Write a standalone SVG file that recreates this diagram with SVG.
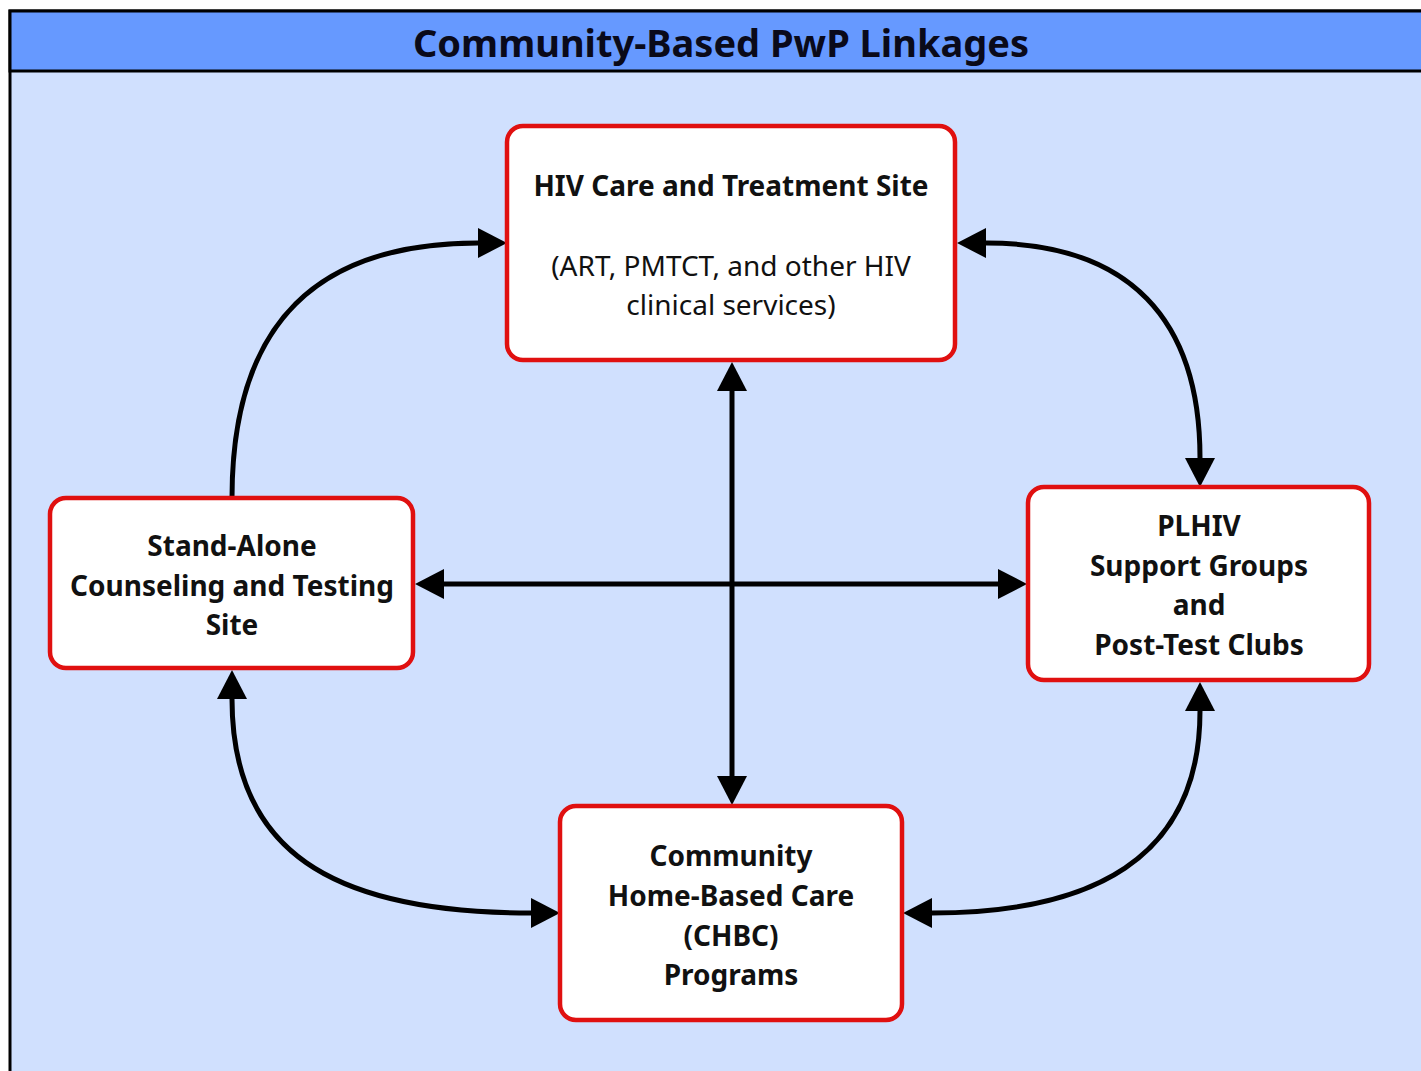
<svg xmlns="http://www.w3.org/2000/svg" width="1421" height="1071" viewBox="0 0 1421 1071">
<style>
.node{fill:#ffffff;stroke:#e01010;stroke-width:4.5}
.t{font-family:"Noto Sans","Open Sans","Liberation Sans",sans-serif;font-size:28px;fill:#111;text-anchor:middle}
.b{font-weight:bold}
.title{font-family:"Noto Sans","Open Sans","Liberation Sans",sans-serif;font-size:38px;font-weight:bold;fill:#0a0a1a;text-anchor:middle}
.c{fill:none;stroke:#000;stroke-width:5;marker-end:url(#ah);marker-start:url(#ah)}
.c1{fill:none;stroke:#000;stroke-width:5;marker-end:url(#ah)}
</style>
<defs>
<marker id="ah" markerUnits="userSpaceOnUse" markerWidth="30" markerHeight="32" viewBox="0 0 30 32" refX="0" refY="16" orient="auto-start-reverse">
<path d="M0,1 L29,16 L0,31 z" fill="#000"/>
</marker>
</defs>
<g id="frame">
<rect x="10" y="11" width="1420" height="1070" fill="#d0e0fe" stroke="#000" stroke-width="3"/>
<rect x="10" y="11" width="1420" height="60" fill="#6699ff" stroke="#000" stroke-width="3"/>
<text class="title" x="721" y="57">Community-Based PwP Linkages</text>
</g>
<g id="connectors">
<path class="c1" d="M232,498 C232,320 320,243 478,243"/>
<path class="c" d="M986,243 C1130,243 1200,320 1200,458"/>
<path class="c" d="M732,391 L732,776"/>
<path class="c" d="M444,584 L998,584"/>
<path class="c" d="M232,699 C232,850 330,913 531,913"/>
<path class="c" d="M1200,711 C1200,860 1090,913 932,913"/>
</g>
<g id="n-hiv">
<rect class="node" x="507" y="126" width="448" height="234" rx="16"/>
<text class="t b" x="731" y="196">HIV Care and Treatment Site</text>
<text class="t" x="731" y="276">(ART, PMTCT, and other HIV</text>
<text class="t" x="731" y="315">clinical services)</text>
</g>
<g id="n-vct">
<rect class="node" x="50" y="498" width="363" height="170" rx="16"/>
<text class="t b" x="232" y="556">Stand-Alone</text>
<text class="t b" x="232" y="596">Counseling and Testing</text>
<text class="t b" x="232" y="635">Site</text>
</g>
<g id="n-plhiv">
<rect class="node" x="1028" y="487" width="341" height="193" rx="16"/>
<text class="t b" x="1199" y="536">PLHIV</text>
<text class="t b" x="1199" y="576">Support Groups</text>
<text class="t b" x="1199" y="615">and</text>
<text class="t b" x="1199" y="655">Post-Test Clubs</text>
</g>
<g id="n-chbc">
<rect class="node" x="560" y="806" width="342" height="214" rx="16"/>
<text class="t b" x="731" y="866">Community</text>
<text class="t b" x="731" y="906">Home-Based Care</text>
<text class="t b" x="731" y="946">(CHBC)</text>
<text class="t b" x="731" y="985">Programs</text>
</g>
</svg>
